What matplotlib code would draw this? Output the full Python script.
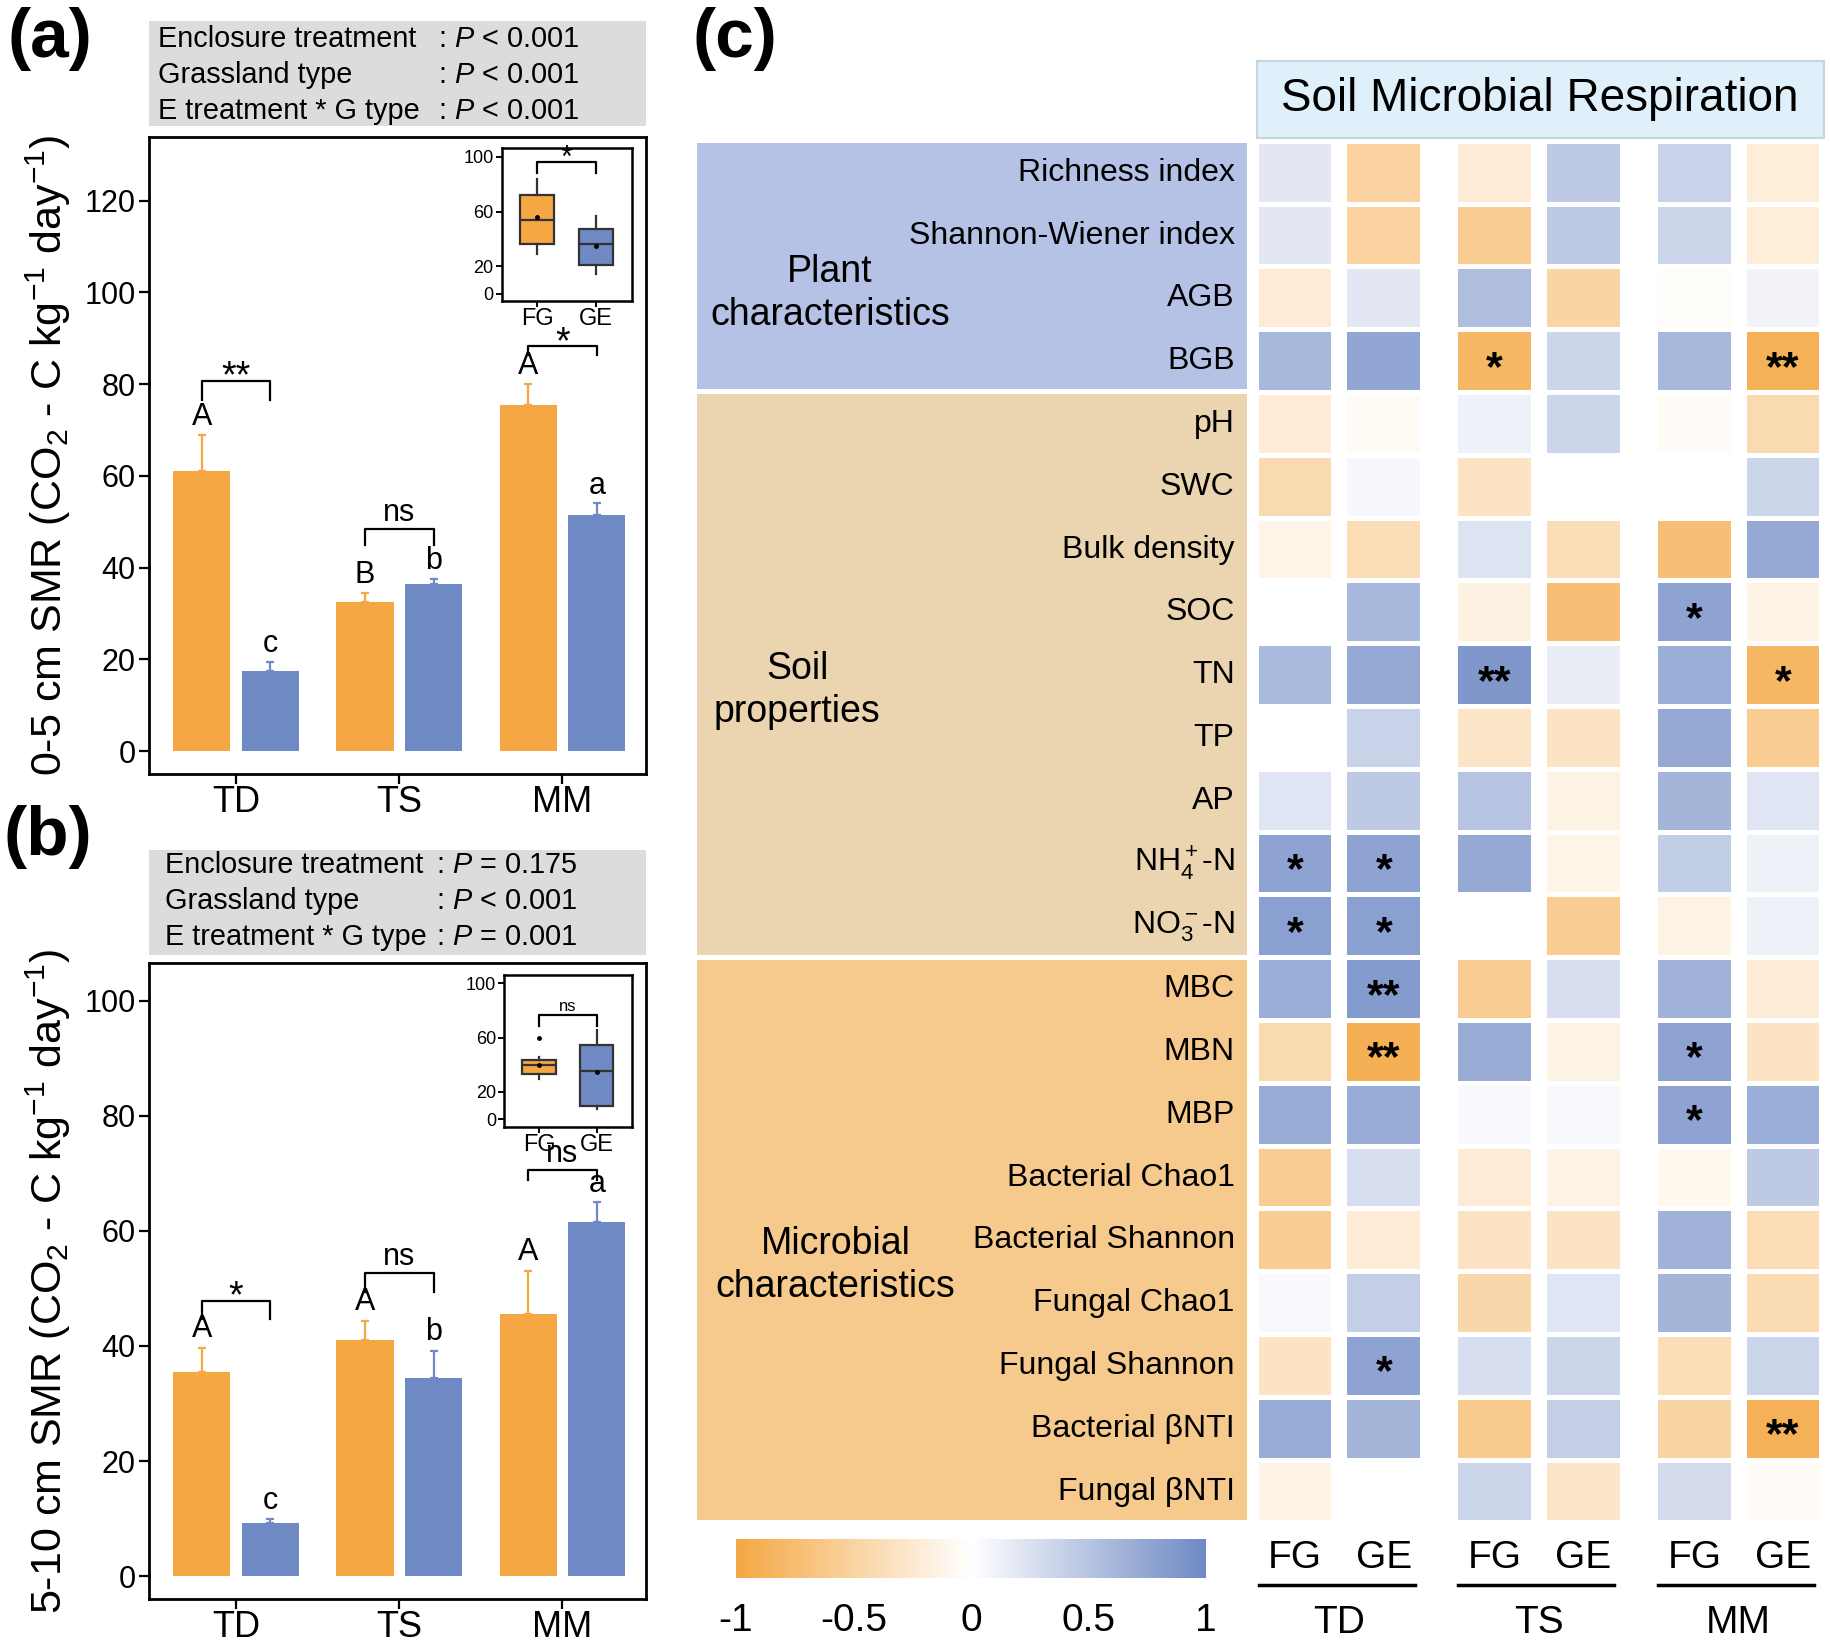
import matplotlib
matplotlib.use("Agg")
import matplotlib.pyplot as plt
import numpy as np
from matplotlib import font_manager
from matplotlib.colors import LinearSegmentedColormap, Normalize
from matplotlib.cm import ScalarMappable
from matplotlib.patches import Rectangle
from matplotlib.transforms import offset_copy

plt.rcParams['font.family'] = ['Liberation Sans', 'DejaVu Sans']
plt.rcParams['mathtext.fontset'] = 'custom'
plt.rcParams['mathtext.rm'] = 'Liberation Sans'
plt.rcParams['mathtext.it'] = 'Liberation Sans:italic'
plt.rcParams['mathtext.bf'] = 'Liberation Sans:bold'

# the left panels use a condensed face; sizes below are given for the regular face
_names = {f.name for f in font_manager.fontManager.ttflist}
if 'Liberation Sans Narrow' in _names:
    NARROW, K = 'Liberation Sans Narrow', 1 / 0.82
else:
    NARROW, K = 'Liberation Sans', 1.0

ORANGE = '#f4a742'
BLUE = '#6e89c4'

# ---------------- data: bar panels ----------------
sites = ['TD', 'TS', 'MM']

smr05_fg = [61.0, 32.5, 75.5]
smr05_fg_se = [8.0, 2.0, 4.5]
smr05_ge = [17.5, 36.5, 51.5]
smr05_ge_se = [2.0, 1.0, 2.5]
smr05_fg_let = ['A', 'B', 'A']
smr05_ge_let = ['c', 'b', 'a']
smr05_sig = ['**', 'ns', '*']
smr05_sig_y = [80.8, 48.5, 88.3]
smr05_tip = [4.2, 3.6, 2.0]
smr05_stats = [('Enclosure treatment', '<', '0.001'),
               ('Grassland type', '<', '0.001'),
               ('E treatment * G type', '<', '0.001')]

smr510_fg = [35.5, 41.0, 45.5]
smr510_fg_se = [4.2, 3.4, 7.6]
smr510_ge = [9.2, 34.5, 61.5]
smr510_ge_se = [0.7, 4.7, 3.5]
smr510_fg_let = ['A', 'A', 'A']
smr510_ge_let = ['c', 'b', 'a']
smr510_sig = ['*', 'ns', 'ns']
smr510_sig_y = [47.8, 52.6, 70.5]
smr510_tip = [3.2, 3.3, 1.6]
smr510_stats = [('Enclosure treatment', '=', '0.175'),
                ('Grassland type', '<', '0.001'),
                ('E treatment * G type', '=', '0.001')]

# inset boxplots (FG, GE), pooled over grassland types
inset05 = [dict(whislo=29.0, q1=36.6, med=53.7, q3=72.3, whishi=83.6, mean=55.9, fliers=[]),
           dict(whislo=14.5, q1=21.2, med=36.6, q3=47.0, whishi=56.9, mean=34.9, fliers=[])]
inset05_sig = '*'
inset05_sig_y = 96.4
inset510 = [dict(whislo=29.6, q1=33.4, med=39.9, q3=43.5, whishi=45.9, mean=40.0, fliers=[59.6]),
            dict(whislo=7.7, q1=9.9, med=35.3, q3=54.3, whishi=65.6, mean=34.4, fliers=[])]
inset510_sig = 'ns'
inset510_sig_y = 76.9

# ---------------- data: correlation heatmap ----------------
variables = ['Richness index', 'Shannon-Wiener index', 'AGB', 'BGB',
             'pH', 'SWC', 'Bulk density', 'SOC', 'TN', 'TP', 'AP',
             r'NH$_4^+$-N', r'NO$_3^-$-N',
             'MBC', 'MBN', 'MBP', 'Bacterial Chao1', 'Bacterial Shannon',
             'Fungal Chao1', 'Fungal Shannon', 'Bacterial βNTI', 'Fungal βNTI']
groups = ['Plant\ncharacteristics', 'Soil\nproperties', 'Microbial\ncharacteristics']
group_rows = [(0, 3), (4, 12), (13, 21)]
group_colors = ['#b5c1e5', '#ead5b0', '#f6c98d']
columns = ['FG', 'GE', 'FG', 'GE', 'FG', 'GE']

corr = [
    [0.20, -0.50, -0.22, 0.45, 0.38, -0.20],
    [0.20, -0.50, -0.58, 0.45, 0.35, -0.20],
    [-0.22, 0.20, 0.55, -0.48, -0.03, 0.10],
    [0.60, 0.75, -0.82, 0.35, 0.60, -0.88],
    [-0.22, -0.05, 0.12, 0.35, -0.04, -0.42],
    [-0.42, 0.06, -0.32, 0.00, 0.00, 0.35],
    [-0.12, -0.38, 0.24, -0.38, -0.72, 0.72],
    [0.00, 0.60, -0.15, -0.72, 0.78, -0.14],
    [0.58, 0.72, 0.88, 0.15, 0.68, -0.82],
    [0.00, 0.38, -0.30, -0.32, 0.72, -0.58],
    [0.22, 0.45, 0.50, -0.14, 0.62, 0.22],
    [0.78, 0.78, 0.72, -0.12, 0.42, 0.12],
    [0.80, 0.80, 0.00, -0.58, -0.14, 0.12],
    [0.68, 0.85, -0.58, 0.28, 0.65, -0.22],
    [-0.42, -0.90, 0.70, -0.14, 0.78, -0.32],
    [0.70, 0.70, 0.05, 0.05, 0.78, 0.68],
    [-0.58, 0.28, -0.22, -0.14, -0.08, 0.45],
    [-0.58, -0.22, -0.32, -0.32, 0.65, -0.38],
    [0.05, 0.40, -0.45, 0.22, 0.62, -0.40],
    [-0.32, 0.78, 0.28, 0.35, -0.38, 0.35],
    [0.70, 0.62, -0.60, 0.40, -0.48, -0.88],
    [-0.14, 0.00, 0.35, -0.28, 0.30, -0.04],
]
sig = [
    ['', '', '', '', '', ''],
    ['', '', '', '', '', ''],
    ['', '', '', '', '', ''],
    ['', '', '*', '', '', '**'],
    ['', '', '', '', '', ''],
    ['', '', '', '', '', ''],
    ['', '', '', '', '', ''],
    ['', '', '', '', '*', ''],
    ['', '', '**', '', '', '*'],
    ['', '', '', '', '', ''],
    ['', '', '', '', '', ''],
    ['*', '*', '', '', '', ''],
    ['*', '*', '', '', '', ''],
    ['', '**', '', '', '', ''],
    ['', '**', '', '', '*', ''],
    ['', '', '', '', '*', ''],
    ['', '', '', '', '', ''],
    ['', '', '', '', '', ''],
    ['', '', '', '', '', ''],
    ['', '*', '', '', '', ''],
    ['', '', '', '', '', '**'],
    ['', '', '', '', '', ''],
]

# ---------------- figure ----------------
fig = plt.figure(figsize=(18.31, 16.46), dpi=100)
W, H = 1568.0, 1410.0


def frect(x0, y0, x1, y1):
    return [x0 / W, 1 - y1 / H, (x1 - x0) / W, (y1 - y0) / H]


YTICK = 22 * K
XTICK = 26 * K
LET = 22 * K
STAR = 27 * K
STAT = 20.8 * K
YLAB = 31 * K

bw, off = 0.35, 0.21


def sig_text(ax, x, y, s, size):
    # asterisks sit high in the glyph box, so pull them down onto the bracket
    tr = offset_copy(ax.transData, fig=fig, x=0, y=(-0.42 * size if '*' in s else 0), units='points')
    ax.text(x, y, s, ha='center', va='bottom', fontsize=size, family=NARROW, transform=tr)


def stats_box(box, rows, xl, xr, ys):
    x0, y0, x1, y1 = box
    fig.patches.append(Rectangle((x0 / W, 1 - y1 / H), (x1 - x0) / W, (y1 - y0) / H,
                                 transform=fig.transFigure, facecolor='#dcdcdc',
                                 edgecolor='none', zorder=0))
    for (name, op, val), y in zip(rows, ys):
        fig.text(xl / W, 1 - y / H, name, fontsize=STAT, family=NARROW, va='center')
        fig.text(xr / W, 1 - y / H, r': $\mathit{P}$ %s %s' % (op, val),
                 fontsize=STAT, family=NARROW, va='center')


def bar_panel(rect, fg, fg_se, ge, ge_se, fg_let, ge_let, sg, sg_y, tip, ylim, ymax, ylabel):
    ax = fig.add_axes(rect)
    x = np.arange(1, len(sites) + 1)
    ax.bar(x - off, fg, width=bw, color=ORANGE, zorder=2)
    ax.bar(x + off, ge, width=bw, color=BLUE, zorder=2)
    ax.errorbar(x - off, fg, yerr=[np.zeros(3), fg_se], fmt='none', ecolor=ORANGE,
                elinewidth=1.6, capsize=3, capthick=1.6, zorder=1)
    ax.errorbar(x + off, ge, yerr=[np.zeros(3), ge_se], fmt='none', ecolor=BLUE,
                elinewidth=1.6, capsize=3, capthick=1.6, zorder=1)
    for i in range(3):
        ax.text(x[i] - off, fg[i] + fg_se[i] + 0.6, fg_let[i], ha='center', va='bottom',
                fontsize=LET, family=NARROW)
        ax.text(x[i] + off, ge[i] + ge_se[i] + 0.6, ge_let[i], ha='center', va='bottom',
                fontsize=LET, family=NARROW)
        ax.plot([x[i] - off, x[i] - off, x[i] + off, x[i] + off],
                [sg_y[i] - tip[i], sg_y[i], sg_y[i], sg_y[i] - tip[i]], color='k', lw=1.6)
        sig_text(ax, x[i], sg_y[i] + 0.2, sg[i], STAR if '*' in sg[i] else LET)
    ax.set_xlim(0.47, 3.51)
    ax.set_ylim(*ylim)
    ax.set_yticks(np.arange(0, ymax + 1, 20))
    ax.set_xticks(x)
    ax.set_xticklabels(sites)
    ax.tick_params(direction='out', length=7, width=1.6)
    ax.tick_params(axis='y', labelsize=YTICK, pad=3)
    ax.tick_params(axis='x', labelsize=XTICK, pad=1)
    for lab in ax.get_xticklabels() + ax.get_yticklabels():
        lab.set_family(NARROW)
    for s in ax.spines.values():
        s.set_linewidth(2)
    ax.set_ylabel(ylabel, fontsize=YLAB, family=NARROW)
    ax.yaxis.set_label_coords(-0.155, 0.5)
    return ax


def inset_box(ax, bounds, stats, sg, sg_y):
    ins = ax.inset_axes(bounds)
    res = ins.bxp(stats, positions=[1, 2], widths=0.58, patch_artist=True,
                  showmeans=True, showcaps=False,
                  boxprops=dict(edgecolor='#333333', linewidth=1.6),
                  medianprops=dict(color='#333333', linewidth=1.6),
                  whiskerprops=dict(color='#333333', linewidth=1.6),
                  meanprops=dict(marker='o', markerfacecolor='k', markeredgecolor='k', markersize=2.5),
                  flierprops=dict(marker='o', markerfacecolor='k', markeredgecolor='k', markersize=2.5))
    for patch, c in zip(res['boxes'], [ORANGE, BLUE]):
        patch.set_facecolor(c)
    ins.plot([1, 1, 2, 2], [sg_y - 8, sg_y, sg_y, sg_y - 8], color='k', lw=1.6)
    sig_text(ins, 1.5, sg_y + 0.5, sg, (22 if sg == '*' else 12) * K)
    ins.set_xlim(0.4, 2.61)
    ins.set_ylim(-5.5, 106.5)
    ins.set_yticks([0, 20, 60, 100])
    ins.set_xticks([1, 2])
    ins.set_xticklabels(['FG', 'GE'])
    ins.tick_params(axis='y', labelsize=13 * K, length=4, width=1.4, pad=2)
    ins.tick_params(axis='x', labelsize=17 * K, length=4, width=1.4, pad=1)
    for lab in ins.get_xticklabels() + ins.get_yticklabels():
        lab.set_family(NARROW)
    for s in ins.spines.values():
        s.set_linewidth(1.8)
    return ins


# panel (a)
stats_box((128, 18, 553, 108), smr05_stats, 135, 375, [33, 64, 95])
axa = bar_panel(frect(128, 117, 553, 663), smr05_fg, smr05_fg_se, smr05_ge, smr05_ge_se,
                smr05_fg_let, smr05_ge_let, smr05_sig, smr05_sig_y, smr05_tip,
                (-5, 134), 120, r'0-5 cm SMR (CO$_2$ - C kg$^{-1}$ day$^{-1}$)')
inset_box(axa, [0.71, 0.742, 0.262, 0.24], inset05, inset05_sig, inset05_sig_y)

# panel (b)
stats_box((128, 728, 553, 818), smr510_stats, 141, 373, [741, 772, 803])
axb = bar_panel(frect(128, 825, 553, 1370), smr510_fg, smr510_fg_se, smr510_ge, smr510_ge_se,
                smr510_fg_let, smr510_ge_let, smr510_sig, smr510_sig_y, smr510_tip,
                (-4, 106.5), 100, r'5-10 cm SMR (CO$_2$ - C kg$^{-1}$ day$^{-1}$)')
inset_box(axb, [0.715, 0.743, 0.257, 0.239], inset510, inset510_sig, inset510_sig_y)

fig.text(6 / W, 1 - 33 / H, '(a)', fontsize=50 * K, fontweight='bold', family=NARROW, va='center')
fig.text(3 / W, 1 - 717 / H, '(b)', fontsize=50 * K, fontweight='bold', family=NARROW, va='center')
fig.text(593 / W, 1 - 33 / H, '(c)', fontsize=50 * K, fontweight='bold', family=NARROW, va='center')

# panel (c) heatmap
cmap = LinearSegmentedColormap.from_list('smr', [ORANGE, '#ffffff', BLUE])
norm = Normalize(-1, 1)
axc = fig.add_axes(frect(590, 45, 1568, 1410))
axc.set_xlim(-6.83, 6.04)
axc.set_ylim(23.46, -1.914)
axc.axis('off')

col_x = np.array([0, 1, 2.25, 3.25, 4.5, 5.5])
rows_y = np.arange(len(variables))
vals = np.array(corr)
for j in range(len(columns)):
    axc.bar(np.full(len(variables), col_x[j]), 0.92, width=0.82, bottom=rows_y - 0.46,
            color=cmap(norm(vals[:, j])), edgecolor='none')
    for i in range(len(variables)):
        if sig[i][j]:
            axc.text(col_x[j], rows_y[i] + 0.12, sig[i][j], ha='center', va='center',
                     fontsize=31, fontweight='bold')

for (r0, r1), c, g, gx, gy in zip(group_rows, group_colors, groups,
                                  [-5.24, -5.61, -5.18], [1.93, 8.25, 17.4]):
    axc.add_patch(Rectangle((-6.74, r0 - 0.47), 6.2, r1 - r0 + 0.92, facecolor=c,
                            edgecolor='none'))
    axc.text(gx, gy, g, ha='center', va='center', fontsize=27, linespacing=1.25)
for i, v in enumerate(variables):
    axc.text(-0.68, rows_y[i], v, ha='right', va='center', fontsize=23)

axc.add_patch(Rectangle((-0.434, -1.784), 6.394, 1.226, facecolor='#dff0fa',
                        edgecolor='#c5d5de', lw=1.5, clip_on=False))
axc.text(2.76, -1.17, 'Soil Microbial Respiration', ha='center', va='center', fontsize=33)

for j, c in enumerate(columns):
    axc.text(col_x[j], 22.06, c, ha='center', va='center', fontsize=28 * K, family=NARROW)
for g, s in enumerate(sites):
    x0, x1 = col_x[2 * g], col_x[2 * g + 1]
    axc.plot([x0 - 0.41, x1 + 0.35], [22.49, 22.49], color='k', lw=2.5, clip_on=False)
    axc.text((x0 + x1) / 2, 23.09, s, ha='center', va='center', fontsize=28 * K, family=NARROW)

cax = fig.add_axes(frect(630, 1318, 1033, 1352))
cb = fig.colorbar(ScalarMappable(norm=norm, cmap=cmap), cax=cax, orientation='horizontal',
                  ticks=[-1, -0.5, 0, 0.5, 1])
cb.outline.set_visible(False)
cb.ax.set_xticklabels(['-1', '-0.5', '0', '0.5', '1'])
cax.tick_params(length=0, pad=18, labelsize=28 * K)
for lab in cax.get_xticklabels():
    lab.set_family(NARROW)

fig.savefig('out.png', dpi=100)
